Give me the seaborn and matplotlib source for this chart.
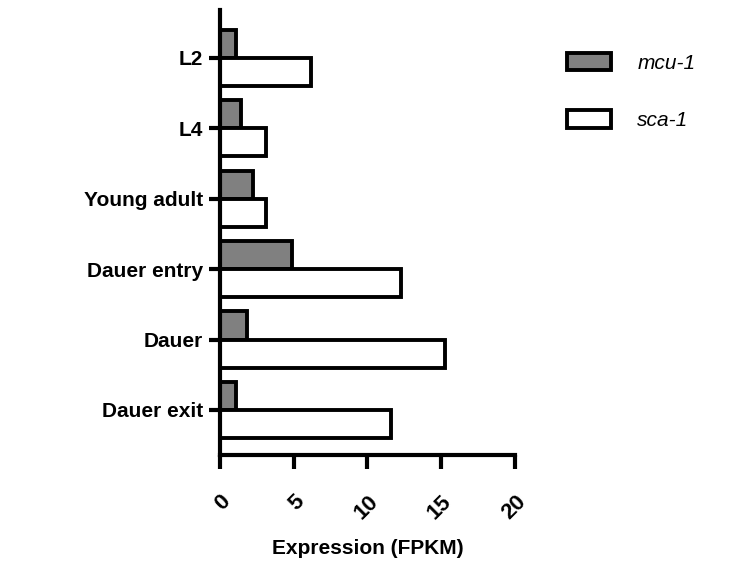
import matplotlib
matplotlib.use("Agg")
import matplotlib.pyplot as plt
import matplotlib.transforms as mtransforms
import seaborn as sns
import pandas as pd

stages = ["L2", "L4", "Young adult", "Dauer entry", "Dauer", "Dauer exit"]
mcu1 = [1.1, 1.4, 2.25, 4.85, 1.8, 1.1]
sca1 = [6.2, 3.15, 3.1, 12.3, 15.25, 11.6]
genes = ["mcu-1", "sca-1"]
xticks = [0, 5, 10, 15, 20]

df = pd.DataFrame({
    "stage": stages * 2,
    "gene": [genes[0]] * len(stages) + [genes[1]] * len(stages),
    "value": mcu1 + sca1,
})

sns.set_style("ticks")
plt.rcParams["font.family"] = ["Liberation Sans", "DejaVu Sans"]
plt.rcParams["text.color"] = "black"
plt.rcParams["axes.labelcolor"] = "black"
plt.rcParams["xtick.color"] = "black"
plt.rcParams["ytick.color"] = "black"
plt.rcParams["axes.edgecolor"] = "black"

fig = plt.figure(figsize=(7.32, 5.69), dpi=100)
ax = fig.add_axes([0.3005, 0.2004, 0.4030, 0.782])

sns.barplot(data=df, y="stage", x="value", hue="gene", order=stages,
            hue_order=genes, palette={"mcu-1": "#808080", "sca-1": "#ffffff"},
            edgecolor="black", linewidth=2.8, orient="h", width=0.8,
            saturation=1, ax=ax, legend=True)

ax.set_xlim(0, 20)
ax.set_ylim(5.64, -0.68)
ax.set_xticks(xticks)
ax.set_xticklabels([str(t) for t in xticks], rotation=45, ha="right",
                   rotation_mode="anchor", fontsize=16, fontweight="bold")
shift = mtransforms.ScaledTranslation(-5 / 100, 0, fig.dpi_scale_trans)
for lab in ax.get_xticklabels():
    lab.set_transform(lab.get_transform() + shift)
ax.set_yticks(range(len(stages)))
ax.set_yticklabels(stages, fontsize=15, fontweight="bold")
ax.set_xlabel("Expression (FPKM)", fontsize=15, fontweight="bold", labelpad=11)
ax.set_ylabel("")

for side in ["top", "right"]:
    ax.spines[side].set_visible(False)
for side in ["left", "bottom"]:
    ax.spines[side].set_linewidth(3)
    ax.spines[side].set_color("black")
ax.tick_params(axis="y", length=8, width=3, pad=4, colors="black")
ax.tick_params(axis="x", length=10, width=3, pad=16, colors="black")

handles, labels = ax.get_legend_handles_labels()
ax.get_legend().remove()
leg = fig.legend(handles, labels, loc="upper left", bbox_to_anchor=(0.761, 0.926),
                 frameon=False, borderpad=0, handlelength=2.1, handleheight=0.95,
                 handletextpad=1.25, labelspacing=1.8,
                 prop={"size": 15, "style": "italic"})

fig.savefig("out.png", dpi=100)
